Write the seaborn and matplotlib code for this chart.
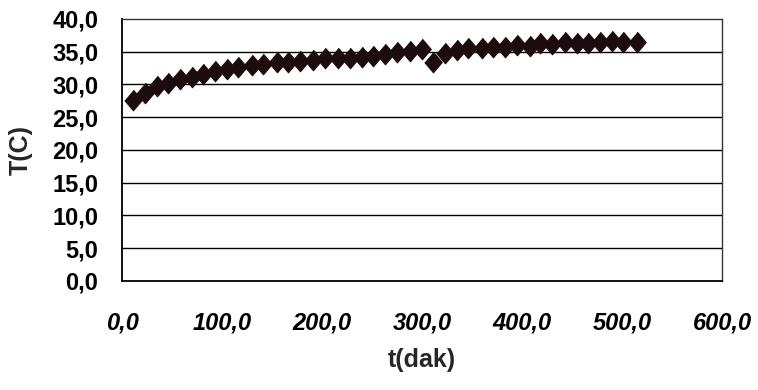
import numpy as np
import pandas as pd
import matplotlib
matplotlib.use('Agg')
import matplotlib.pyplot as plt
import seaborn as sns

# time (min) and temperature (C)
t_dak = [11, 23, 35, 46, 58, 70, 81, 93, 105, 116, 130, 141, 155, 166, 178,
         191, 203, 216, 228, 240, 251, 263, 275, 288, 300, 311, 323, 335, 346,
         360, 371, 383, 395, 408, 418, 430, 443, 455, 466, 478, 490, 501, 515]
temp_c = [27.6, 28.7, 29.7, 30.3, 30.8, 31.2, 31.6, 32.0, 32.3, 32.7, 33.0,
          33.2, 33.5, 33.5, 33.6, 33.7, 34.0, 34.0, 34.1, 34.2, 34.4, 34.6,
          35.0, 35.1, 35.4, 33.5, 34.8, 35.3, 35.5, 35.5, 35.8, 35.8, 36.0,
          35.9, 36.3, 36.2, 36.5, 36.4, 36.3, 36.5, 36.7, 36.5, 36.5]

x_ticks = [0, 100, 200, 300, 400, 500, 600]
y_ticks = [0, 5, 10, 15, 20, 25, 30, 35, 40]

df = pd.DataFrame({'t': t_dak, 'T': temp_c})

sns.set_style('white')
plt.rcParams['font.family'] = ['Liberation Sans', 'DejaVu Sans']

fig = plt.figure(figsize=(7.58, 3.90), dpi=100)
ax = fig.add_axes([0.161, 0.2795, 0.7915, 0.6718])

# horizontal gridlines
for yv in y_ticks[1:-1]:
    ax.axhline(yv, color='black', lw=1.0, zorder=1)

# slightly tall diamond, like the Excel marker
diamond = [(0, 1), (0.85, 0), (0, -1), (-0.85, 0)]
sns.scatterplot(data=df, x='t', y='T', marker=diamond, s=220, color='#1c0c0e',
                edgecolor='#1c0c0e', linewidth=0.8, ax=ax, zorder=3)

ax.set_xlim(0, 600)
ax.set_ylim(0, 40)
ax.set_xticks(x_ticks)
ax.set_yticks(y_ticks)
ax.set_xticklabels([f'{v:.1f}'.replace('.', ',') for v in x_ticks],
                   fontsize=17, fontweight='bold', style='italic')
ax.set_yticklabels([f'{v:.1f}'.replace('.', ',') for v in y_ticks],
                   fontsize=17, fontweight='bold')

ax.tick_params(axis='y', direction='inout', length=10, width=1, pad=12, colors='black')
ax.tick_params(axis='x', direction='out', length=4, width=1, pad=18, colors='black')

for side in ['left', 'bottom']:
    ax.spines[side].set_color('black')
    ax.spines[side].set_linewidth(1.3)
for side in ['top', 'right']:
    ax.spines[side].set_color('#333333')
    ax.spines[side].set_linewidth(1.0)
    ax.spines[side].set_linestyle((0, (1.5, 1)))

ax.set_xlabel('t(dak)', fontsize=18, fontweight='bold', labelpad=10)
ax.set_ylabel('T(C)', fontsize=18, fontweight='bold', labelpad=14)

fig.savefig('out.png', dpi=100)
